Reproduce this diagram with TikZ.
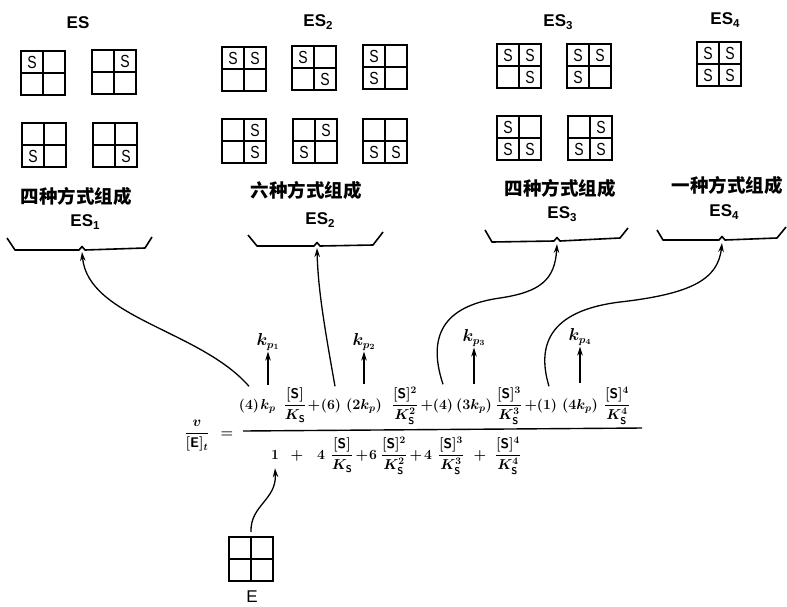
\documentclass[tikz,border=0pt]{standalone}
\usepackage{amsmath}
\usepackage{fontspec}
\newfontfamily\cjk{Noto Sans CJK SC}
\newfontfamily\lab{Liberation Sans}
\usetikzlibrary{arrows.meta,calc}
\newcommand\esl[1]{ES\raisebox{-3pt}{\fontsize{11.5}{11.5}\selectfont #1}}
\newcommand\Sx{\scalebox{0.8}[1]{S}}
\newcommand\gridbox[6]{%
  \node[gbox] (#1) at (#2) {};
  \draw[ginner] (#1.north) -- (#1.south) (#1.west) -- (#1.east);
  \node[gcell] (#1tl) at ($(#1.center)+(-11,-11)$) {#3};
  \node[gcell] (#1tr) at ($(#1.center)+(11,-11)$) {#4};
  \node[gcell] (#1bl) at ($(#1.center)+(-11,11)$) {#5};
  \node[gcell] (#1br) at ($(#1.center)+(11,11)$) {#6};
}
\begin{document}
\begin{tikzpicture}[x=1pt,y=-1pt,
  gbox/.style={draw,line width=2.2pt,minimum size=44pt,inner sep=0pt,outer sep=0pt},
  ginner/.style={line width=1.5pt},
  gcell/.style={font=\lab\fontsize{17.5}{17.5}\selectfont,inner sep=0pt},
  eslab/.style={font=\lab\bfseries\fontsize{17}{17}\selectfont,inner sep=0pt},
  cnlab/.style={font=\cjk\bfseries\fontsize{18.5}{18.5}\selectfont,inner sep=0pt},
  fm/.style={font=\fontsize{14}{16}\selectfont\bfseries\boldmath,anchor=base,inner sep=0pt},
  klab/.style={font=\fontsize{16}{18}\selectfont\boldmath,inner sep=0pt},
  brace/.style={line width=1.6pt,line join=round},
  conn/.style={line width=1.3pt,-{Stealth[length=9pt,width=5.5pt]}},
  bar/.style={line width=1.4pt}]
\useasboundingbox (0,0) rectangle (787,606);
% ---------- top labels
\node[eslab] (t1) at (78,23) {ES};
\node[eslab] (t2) at (318,22) {\esl{2}};
\node[eslab] (t3) at (558,22) {\esl{3}};
\node[eslab] (t4) at (725,20) {\esl{4}};
% ---------- ES1 boxes
\gridbox{a1}{43,73}{\Sx}{}{}{}
\gridbox{a2}{114,72}{}{\Sx}{}{}
\gridbox{a3}{44,145}{}{}{\Sx}{}
\gridbox{a4}{115,145}{}{}{}{\Sx}
% ---------- ES2 boxes
\gridbox{b1}{244,69}{\Sx}{\Sx}{}{}
\gridbox{b2}{314,68}{\Sx}{}{}{\Sx}
\gridbox{b3}{385,67}{\Sx}{}{\Sx}{}
\gridbox{b4}{244,141}{}{\Sx}{}{\Sx}
\gridbox{b5}{315,141}{}{\Sx}{\Sx}{}
\gridbox{b6}{385,141}{}{}{\Sx}{\Sx}
% ---------- ES3 boxes
\gridbox{c1}{519,66}{\Sx}{\Sx}{}{\Sx}
\gridbox{c2}{589,66}{\Sx}{\Sx}{\Sx}{}
\gridbox{c3}{519,138}{\Sx}{}{\Sx}{\Sx}
\gridbox{c4}{590,138}{}{\Sx}{\Sx}{\Sx}
% ---------- ES4 box
\gridbox{d1}{719,64}{\Sx}{\Sx}{\Sx}{\Sx}
% ---------- chinese labels
\node[cnlab] (n1) at (76,196) {四种方式组成};
\node[cnlab] (n2) at (306,190) {六种方式组成};
\node[cnlab] (n3) at (560,188) {四种方式组成};
\node[cnlab] (n4) at (727,185) {一种方式组成};
\node[eslab] (s1) at (85,222) {\esl{1}};
\node[eslab] (s2) at (320,220) {\esl{2}};
\node[eslab] (s3) at (562,214) {\esl{3}};
\node[eslab] (s4) at (724,212) {\esl{4}};
% ---------- braces
\draw[brace] (7,238) -- (15,250) -- (79,250) -- (82,246.5) -- (85,250) -- (145,248) -- (152,237);
\draw[brace] (248,235) -- (257,246) -- (314,246) -- (317,242.5) -- (320,246) -- (373,245) -- (383,232);
\draw[brace] (485,230) -- (492,242) -- (554,241) -- (557,237.5) -- (560,241) -- (620,238) -- (628,228);
\draw[brace] (657,230) -- (663,240) -- (719,240) -- (722,236.5) -- (725,240) -- (777,238) -- (786,227);
\coordinate (q1) at (82,252);
\coordinate (q2) at (317,248);
\coordinate (q3) at (557,244);
\coordinate (q4) at (722,243);
% ---------- left side
\node[fm] (lhs) at (197,437) {$\dfrac{v}{[\mathsf{E}]_t}$};
\node[fm] (eq) at (227,437) {$=$};
\draw[bar] (243,431) -- (642,428);
% ---------- numerator
\node[fm] (p1) at (249,409) {(4)};
\node[fm] (k1) at (268,409) {$k_p$};
\node[fm] (f1) at (295,409) {$\dfrac{[\mathsf{S}]}{K_{\mathsf{S}}}$};
\node[fm] (pl1) at (314,409) {$+$};
\node[fm] (p2) at (331,409) {(6)};
\node[fm] (k2) at (364,409) {$(2k_p)$};
\node[fm] (f2) at (405,409) {$\dfrac{[\mathsf{S}]^2}{K_{\mathsf{S}}^2}$};
\node[fm] (pl2) at (427,409) {$+$};
\node[fm] (p3) at (443,409) {(4)};
\node[fm] (k3) at (474,409) {$(3k_p)$};
\node[fm] (f3) at (509,409) {$\dfrac{[\mathsf{S}]^3}{K_{\mathsf{S}}^3}$};
\node[fm] (pl3) at (531,409) {$+$};
\node[fm] (p4) at (547,409) {(1)};
\node[fm] (k4) at (580,409) {$(4k_p)$};
\node[fm] (f4) at (617,409) {$\dfrac{[\mathsf{S}]^4}{K_{\mathsf{S}}^4}$};
% ---------- kp labels
\node[klab] (kp1) at (268,342) {$\boldsymbol{k_{p_1}}$};
\node[klab] (kp2) at (364,342) {$\boldsymbol{k_{p_2}}$};
\node[klab] (kp3) at (474,338) {$\boldsymbol{k_{p_3}}$};
\node[klab] (kp4) at (580,337) {$\boldsymbol{k_{p_4}}$};
\draw[conn] ([yshift=14pt]k1.north) -- ([yshift=-1pt]kp1.south);
\draw[conn] ([yshift=14pt]k2.north) -- ([yshift=-1pt]kp2.south);
\draw[conn] ([yshift=14pt]k3.north) -- ([yshift=-1pt]kp3.south);
\draw[conn] ([yshift=15pt]k4.north) -- ([yshift=-1pt]kp4.south);
% ---------- denominator
\node[fm] (d1) at (275,459) {1};
\node[fm] (dp1) at (297,459) {$+$};
\node[fm] (d4a) at (321,459) {4};
\node[fm] (df1) at (342,459) {$\dfrac{[\mathsf{S}]}{K_{\mathsf{S}}}$};
\node[fm] (dp2) at (362,459) {$+$};
\node[fm] (d6) at (373,459) {6};
\node[fm] (df2) at (394,459) {$\dfrac{[\mathsf{S}]^2}{K_{\mathsf{S}}^2}$};
\node[fm] (dp3) at (416,459) {$+$};
\node[fm] (d4b) at (428,459) {4};
\node[fm] (df3) at (451,459) {$\dfrac{[\mathsf{S}]^3}{K_{\mathsf{S}}^3}$};
\node[fm] (dp4) at (480,459) {$+$};
\node[fm] (df4) at (508,459) {$\dfrac{[\mathsf{S}]^4}{K_{\mathsf{S}}^4}$};
% ---------- connectors to braces
\draw[conn] ([yshift=12pt]p1.north) .. controls (200,330) and (88,318) .. (q1);
\draw[conn] ([xshift=4pt,yshift=12pt]p2.north) .. controls (325,330) and (318,290) .. (q2);
\draw[conn] ([yshift=14pt]p3.north) .. controls (425,330) and (450,305) .. (500,298) .. controls (540,292) and (555,280) .. (q3);
\draw[conn] ([xshift=2pt,yshift=12pt]p4.north) .. controls (535,340) and (555,310) .. (620,302) .. controls (690,294) and (718,280) .. (q4);
% ---------- E
\gridbox{e}{251,559}{}{}{}{}
\node[font=\lab\fontsize{17}{17}\selectfont,inner sep=0pt] (elab) at (252,597) {E};
\draw[conn] ([yshift=5pt]e.north) .. controls (250,505) and (277,500) .. ([yshift=-9pt]d1.south);
\end{tikzpicture}
\end{document}
